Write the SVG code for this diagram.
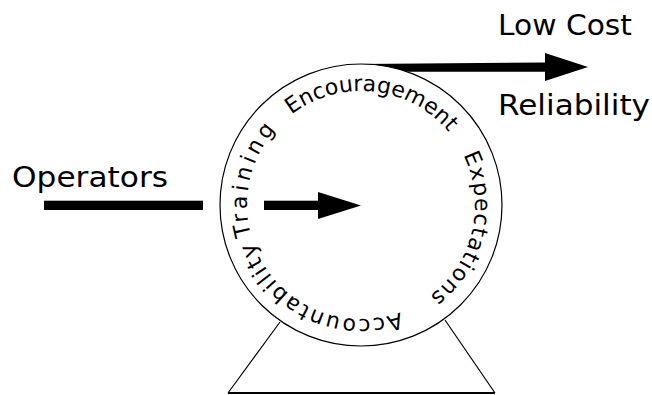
<svg xmlns="http://www.w3.org/2000/svg" width="652" height="395" viewBox="0 0 652 395">
  <style>
    .lbl { font-family: "Comic Sans MS", "DejaVu Sans", sans-serif; font-size: 29px; fill: #000; }
    .arc { font-family: "Comic Sans MS", "DejaVu Sans", sans-serif; font-size: 22px; fill: #000; }
    .thin { fill: none; stroke: #000; stroke-width: 1.2; }
    .solid { fill: #000; stroke: none; }
  </style>
  <defs>
    <path id="ring" d="M 247 205 A 114 114 0 1 1 475 205 A 114 114 0 1 1 247 205 A 114 114 0 1 1 475 205 A 114 114 0 1 1 247 205"/>
  </defs>
  <rect width="652" height="395" fill="#fff"/>

  <g id="stand">
    <path class="thin" d="M 280 322 L 228 393 M 445 320 L 495 393"/>
    <line x1="228" y1="393" x2="495" y2="393" stroke="#000" stroke-width="2"/>
  </g>

  <g id="wheel">
    <circle class="thin" cx="361" cy="205" r="141" fill="#fff"/>
    <text class="arc"><textPath href="#ring" startOffset="104" textLength="175" lengthAdjust="spacing">Encouragement</textPath></text>
    <text class="arc"><textPath href="#ring" startOffset="306" textLength="157" lengthAdjust="spacing">Expectations</textPath></text>
    <text class="arc"><textPath href="#ring" startOffset="497" textLength="181" lengthAdjust="spacing">Accountability</textPath></text>
    <text class="arc"><textPath href="#ring" startOffset="685" textLength="113" lengthAdjust="spacing">Training</textPath></text>
  </g>

  <g id="operators">
    <text class="lbl" x="12" y="187" textLength="156" lengthAdjust="spacingAndGlyphs">Operators</text>
  </g>
  <g id="low-cost">
    <text class="lbl" x="498" y="35" textLength="134" lengthAdjust="spacingAndGlyphs">Low Cost</text>
  </g>
  <g id="reliability">
    <text class="lbl" x="498" y="115" textLength="152" lengthAdjust="spacingAndGlyphs">Reliability</text>
  </g>

  <g id="connectors">
    <rect class="solid" x="44" y="200.7" width="159" height="9.3"/>
    <rect class="solid" x="264" y="200.7" width="56" height="9.3"/>
    <polygon class="solid" points="318,192 361,205.4 318,219"/>
    <path class="solid" d="M 360 64 L 545 62.5 L 545 53 L 588 67 L 545 81 L 545 71.7 L 407 71.7 A 141 141 0 0 0 360 64 Z"/>
  </g>
</svg>
